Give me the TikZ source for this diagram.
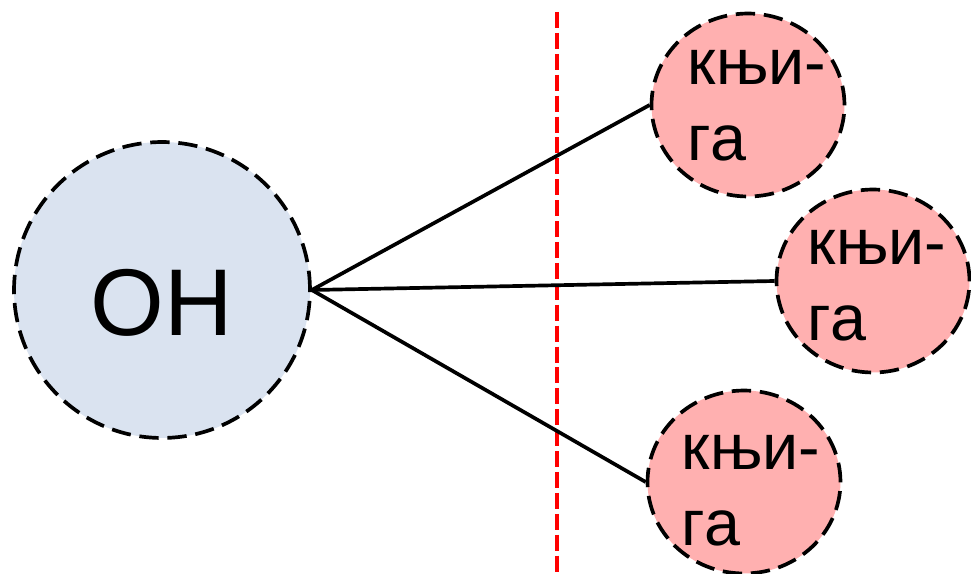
\documentclass[tikz,border=0pt]{standalone}
\usepackage{fontspec}
\setmainfont{Liberation Sans}
\usetikzlibrary{shapes.geometric}

\definecolor{personblue}{HTML}{DAE3F0}
\definecolor{bookpink}{HTML}{FFB0B0}

\tikzset{
  person/.style={circle, draw, line width=2.1pt, dash pattern=on 11pt off 5pt,
    fill=personblue, minimum size=5.92cm, inner sep=0pt,
    font=\fontsize{54}{64}\selectfont},
  book/.style={ellipse, draw, line width=2.1pt, dash pattern=on 11pt off 5pt,
    fill=bookpink, minimum width=3.86cm, minimum height=3.66cm, inner sep=0pt},
  booktext/.style={inner sep=0pt, align=left, font=\fontsize{36.8}{43.2}\selectfont},
  link/.style={line width=2.1pt},
  border/.style={red, line width=2.6pt, dash pattern=on 9.1pt off 2.8pt}
}

\begin{document}
\begin{tikzpicture}[x=0.02cm, y=-0.02cm]
  \useasboundingbox (0,0) rectangle (971,574);

  % 1. The red dividing line
  \coordinate (cutTop) at (557,12);
  \coordinate (cutBot) at (557,574);
  \draw[border] (cutTop) -- (cutBot);

  % 2. The person and the three books
  \node[person, text height=52pt, text depth=0pt] (on) at (162,290) {ОН\hspace{8pt}};
  \node[book] (bookA) at (748,105) {};
  \node[book] (bookB) at (873,281) {};
  \node[book] (bookC) at (744,482) {};

  % 3. The word in each book
  \node[booktext] (bookAtext) at ([shift={(9,1)}]bookA.center) {књи-\\га};
  \node[booktext] (bookBtext) at ([shift={(4,5)}]bookB.center) {књи-\\га};
  \node[booktext] (bookCtext) at ([shift={(7,9)}]bookC.center) {књи-\\га};

  % 4. Connect the person to each book
  \draw[link] (on.east) -- (bookA.west);
  \draw[link] (on.east) -- (bookB.west);
  \draw[link] (on.east) -- (bookC.west);
\end{tikzpicture}
\end{document}
